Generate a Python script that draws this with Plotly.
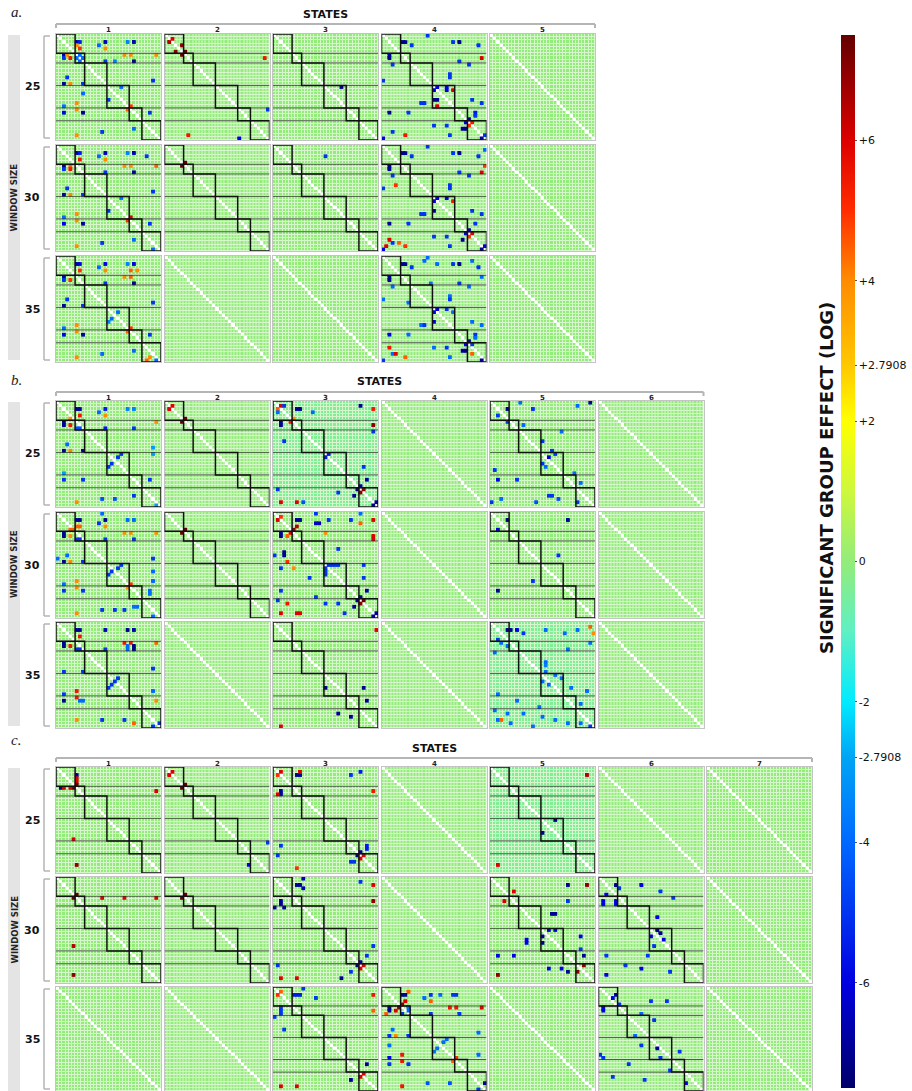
import numpy as np
import plotly.graph_objects as go

W, H = 912, 1091
N = 33
BLOCKS = [6, 3, 7, 7, 4, 6]
WINDOWS = [25, 30, 35]
SECTIONS = ["a", "b", "c"]
N_STATES = [5, 6, 7]
ZMIN, ZMAX = -7.5, 7.5
COLOR_TICKS = [-6, -4, -2.7908, -2, 0, 2, 2.7908, 4, 6]
COLOR_TICK_TEXT = ["-6", "-4", "-2.7908", "-2", "0", "+2", "+2.7908", "+4", "+6"]
COLOR_STOPS = [(-7.5, "rgb(0,0,105)"), (-6, "rgb(0,0,225)"), (-4, "rgb(0,105,255)"),
               (-2.7908, "rgb(0,165,245)"), (-2, "rgb(0,235,255)"), (-1, "rgb(95,240,195)"),
               (0, "rgb(147,236,122)"), (1, "rgb(205,248,60)"), (2, "rgb(255,255,0)"),
               (2.7908, "rgb(255,200,0)"), (4, "rgb(255,140,0)"), (5, "rgb(255,45,0)"),
               (6, "rgb(220,0,0)"), (7.5, "rgb(100,0,0)")]

# significant cells per panel: (row, col, log effect)
A1_25 = [(2,6,-7),(2,7,-5.5),(3,6,4),(4,7,5),(3,13,-4),(2,15,-6.5),(4,15,4),(2,22,-3.5),(2,24,-6.5),
         (6,2,-7),(7,2,-5),(6,3,4),(7,4,5.5),(6,7,-4),(7,6,-4),(8,7,-4),(7,8,-4),(6,21,4),(6,23,4),
         (6,31,4),(8,15,-5),(8,18,-3.5),(8,24,-7),(13,3,-5),(15,2,-7),(15,4,4),(15,8,-5),(14,30,-5),
         (18,8,-4),(20,16,-5),(16,20,-4),(21,6,4),(22,2,-4),(23,6,4),(24,2,-6),(24,8,-7),(23,22,4.5),
         (22,23,5),(24,29,-5),(29,24,-4),(30,14,-5),(31,6,4)]
A2_25 = [(2,1,6.5),(1,2,6),(3,5,7),(5,3,7),(5,6,7.5),(6,5,7.5),(7,31,5.5),(31,7,5.5),(23,32,-5),(32,23,-6)]
A3_25 = [(16,21,-7)]
A4_25 = [(0,14,-5),(2,6,-7),(2,7,-7),(3,9,-5),(2,22,-5),(2,24,-7),(3,30,-5),(7,31,6),(6,2,-7),(7,2,-7),
         (9,3,-5),(8,24,-5),(9,27,-5),(14,0,-5),(12,21,-5),(13,21,-5),(16,17,-6),(17,16,-6),(16,20,-6),
         (17,20,-6),(17,22,6),(20,16,-7),(20,17,-7),(21,12,-5),(21,13,-5),(22,17,6),(20,28,-5),(21,31,-5),
         (24,2,-7),(24,8,-5),(24,29,-5.5),(25,29,-5),(26,27,-7),(27,26,-6),(27,28,5.5),(28,27,5),
         (28,16,-5),(28,20,-5),(29,25,-7),(29,26,-7),(30,3,-5),(31,7,5.5),(31,21,-5),(32,31,-7),
         (31,32,-5),(32,0,-6)]
A1_30 = [(2,6,-7),(2,7,-5.5),(4,7,5.5),(3,13,-4),(2,15,-6.5),(4,15,4),(2,22,-3.5),(2,24,-6.5),(3,28,-5),
         (6,2,-7),(7,2,-5),(6,4,4.5),(7,4,5.5),(6,21,4),(6,23,4),(6,31,4.5),(8,15,-5),(8,24,-7),(13,3,-5),
         (15,2,-7),(15,4,4),(15,8,-5),(14,30,-5),(16,20,-4),(20,16,-5),(21,6,4),(22,2,-4),(23,6,4),
         (24,2,-6),(24,8,-7),(22,23,6),(23,22,5),(24,29,-5),(29,24,-4),(30,14,-5),(31,6,4),(32,30,-4)]
A2_30 = [(5,6,7.5),(6,5,7.5)]
A3_30 = [(3,16,-5)]
A4_30 = [(0,14,-5),(2,6,-7),(2,7,-7),(3,9,-5),(2,22,-5),(2,24,-7),(3,30,-5),(1,32,-4),(8,31,6),(6,32,5),
         (6,2,-7),(7,2,-7),(9,3,-5),(8,24,-5),(9,27,-5),(13,0,-5),(12,21,-5),(13,21,-5),(16,17,-6),
         (17,16,-6),(16,20,-6),(17,22,5.5),(20,16,-7),(21,12,-5),(21,13,-5),(12,4,5),(20,28,-5),(21,31,-5),
         (24,2,-7),(24,8,-5),(24,29,-5),(26,27,-7),(27,26,-6),(27,28,6),(28,27,5),(28,16,-5),(28,20,-5),
         (29,25,-7),(30,3,-5),(29,2,6),(31,1,6),(31,7,5),(30,5,4.5),(31,21,-5),(32,31,-7),(31,32,-6),(32,0,-6)]
A1_35 = [(2,6,-7),(2,7,-6),(4,7,5),(3,13,-4),(2,15,-6),(4,15,4),(2,22,-3.5),(2,24,-6),(4,23,4.5),(4,25,4),
         (6,2,-7),(7,2,-5),(7,4,5),(6,21,4),(6,23,4.5),(8,15,-5),(8,24,-7),(13,3,-5),(15,2,-7),(15,8,-5),
         (14,30,-5),(17,19,-4),(19,17,-4),(20,16,-3.5),(21,6,4),(23,6,4),(22,2,-4),(24,2,-6),(24,8,-7),
         (22,23,5),(23,22,4.5),(24,29,-5),(29,24,-4),(30,14,-4),(31,6,4),(31,29,4),(32,28,4.5),(32,31,-4)]
A4_35 = [(0,14,-4),(2,6,-7),(2,7,-7),(3,9,-5),(1,13,-4),(2,17,-4),(2,22,-5),(2,24,-7),(1,28,-4),(3,30,-5),
         (6,2,-7),(7,2,-7),(9,3,-4),(8,15,-4),(8,24,-5),(9,27,-4),(6,31,-4),(13,0,-4),(12,21,-4),(13,21,-5),
         (14,8,-4),(16,17,-6),(17,16,-6),(16,20,-5),(17,22,-4),(20,16,-6),(21,12,-4),(21,13,-5),(20,28,-4),
         (21,31,-4),(24,2,-6),(24,8,-4),(24,29,-5),(25,29,-4),(26,27,-7),(27,26,-6),(27,28,-5),(28,16,-4),
         (28,20,-5),(29,25,-7),(29,26,-7),(30,3,-4),(28,2,5.5),(30,4,6),(31,7,4.5),(31,21,-4),(30,28,4.5),
         (32,31,-7),(32,0,-5)]
B1_25 = [(2,6,-7),(2,7,-7),(2,15,-5.5),(3,13,-4),(2,22,-3.5),(2,24,-3.5),(4,15,4),(4,7,5.5),(5,4,4),
         (6,2,-7),(7,2,-7),(7,4,5.5),(6,31,4),(8,6,-4.5),(8,7,-4.5),(8,15,-5.5),(8,24,-5),(13,3,-4),
         (15,2,-7),(15,4,4),(15,8,-7),(14,30,-3),(16,30,-3),(17,19,-5),(16,20,-5),(19,17,-5),(20,16,-5),
         (22,2,-3),(24,2,-5),(24,8,-5),(24,29,-5),(29,24,-5),(30,14,-4.5),(30,18,-4.5),(31,6,4),(32,31,-3)]
B2_25 = [(1,2,6),(2,1,6),(5,6,7.5),(6,5,7.5)]
B3_25 = [(1,2,6),(2,1,4.5),(3,1,-4),(1,3,-5),(2,7,-7),(2,8,-7),(3,12,-4),(1,27,-7),(2,31,5.5),(5,6,4),
         (6,5,5.5),(6,2,-7),(7,2,-7),(7,31,7),(9,31,-5),(12,3,-5),(16,17,-5.5),(17,16,-5.5),(20,28,-5),
         (24,29,-7),(27,1,-5),(28,20,-5),(27,26,-7),(26,27,-7),(27,28,7),(28,27,7),(29,25,-7),(31,2,6),
         (31,7,6),(31,9,-4.5),(31,32,-7),(32,31,-7)]
B5_25 = [(2,5,-7),(0,9,-4),(2,13,-5),(1,27,-4),(0,31,-7),(4,2,-5),(6,5,-5),(7,10,-4),(9,22,-4),(12,16,-5),
         (15,19,-5),(16,20,-5),(17,18,-6),(19,16,-5),(20,17,-4),(21,1,-5),(22,26,-4),(24,2,-6),(24,8,-5),
         (25,28,-4),(29,18,-5),(29,19,-5),(30,3,-4),(31,0,-5),(31,14,-4.5),(30,21,-4.5),(31,27,-5)]
B1_30 = [(0,14,-4),(2,6,-7),(2,7,-7),(2,15,-7),(3,13,-5),(2,22,-4),(2,24,-4),(4,15,4),(4,6,4.5),(4,7,4.5),
         (5,4,4.5),(5,5,4.5),(6,2,-7),(7,2,-7),(7,4,4),(6,21,4),(6,23,4),(6,31,4),(8,6,-5),(8,7,-5),
         (8,15,-5),(8,24,-5),(13,3,-4),(14,0,-4),(15,2,-7),(15,4,4),(15,8,-5),(14,30,-5),(16,20,-5),
         (17,19,-5),(18,17,-5),(19,16,-5),(18,30,-4),(21,30,-4),(21,6,4),(23,6,4),(22,2,-4),(24,2,-5),
         (24,8,-5),(23,22,4),(22,23,5),(24,29,-4),(25,29,-4),(29,24,-4),(29,25,-4),(30,14,-5),(30,18,-5),
         (30,21,-5),(31,6,4),(32,30,-4)]
B2_30 = [(5,6,7.5),(6,5,7.5)]
B3_30 = [(2,1,6),(1,2,5),(2,7,-7),(2,8,-7),(0,13,-5),(3,13,-6.5),(3,14,-6.5),(2,17,-5),(2,24,-5),(3,27,4.5),
         (2,31,6),(0,27,-4),(6,5,6),(5,6,7),(4,7,6.5),(7,4,4.5),(6,16,4),(6,2,-7),(7,2,-7),(7,31,6),(8,31,6),
         (11,20,-5),(12,3,-7),(13,3,-7),(13,0,-5),(15,4,5),(17,2,-5),(17,6,4),(16,17,-5),(16,18,-5),(16,19,-5),
         (16,20,-5),(17,16,-5),(18,16,-5),(19,16,-5),(16,28,-5),(20,11,-5),(20,28,-5),(24,2,-5),(24,29,-7),
         (26,13,-5),(27,1,-5),(28,16,-5),(28,20,-5),(28,4,5.5),(29,25,-7),(26,27,-7),(27,28,7.5),(28,27,7),
         (27,26,-7),(31,22,-5),(31,2,6),(31,7,6),(31,8,6),(31,32,-7),(32,31,-7)]
B5_30 = [(2,5,-7),(2,24,-7),(5,2,-6),(13,21,-5),(21,13,-5),(24,2,-7)]
B1_35 = [(2,6,-7),(2,7,-7),(2,15,-6.5),(2,22,-7),(2,24,-6.5),(4,7,5.5),(6,2,-7),(7,2,-7),(7,4,5.5),(8,6,-5),
         (8,7,-5),(6,21,5.5),(6,23,5.5),(7,22,-4),(8,22,-4),(7,24,-7),(8,24,-7),(6,31,4.5),(8,15,-5),
         (15,2,-5),(15,8,-5),(14,30,-5),(17,19,-5),(18,18,-5),(19,17,-5),(20,16,-5),(21,30,-4),(21,6,5.5),
         (23,6,5.5),(22,2,-5),(24,2,-7),(24,7,-4),(24,8,-4),(24,31,4),(30,14,-5),(30,21,-5),(30,6,4),
         (31,24,4.5),(32,30,-5),(31,32,-5)]
B3_35 = [(2,32,6),(20,16,-7),(20,28,-7),(24,29,-7),(28,20,-7),(29,24,-7),(32,2,6)]
B5_35 = [(2,5,-7),(2,6,-7),(2,8,-6),(3,10,-5),(2,17,-4),(3,23,-4),(2,27,-4),(1,31,4.5),(3,32,4),(5,2,-5),
         (6,3,-4),(7,5,-4),(6,31,-4),(8,24,-4),(9,1,-4),(12,17,-4),(13,17,-3.5),(15,17,-4),(16,20,-4),
         (17,22,-4),(18,16,-4),(19,18,-4),(20,25,-4),(21,30,-4),(22,2,-4),(24,8,-4),(25,28,-4),(26,15,-4),
         (27,1,-4),(28,5,-4),(28,10,-4),(29,16,-4),(30,2,-4),(30,3,4.5),(31,6,-4),(30,20,-4),(31,24,-4),
         (32,13,-4),(31,28,-4),(32,31,-5)]
C1_25 = [(2,6,-7),(3,6,6),(4,6,6),(5,6,7.5),(6,5,7.5),(6,1,-7),(6,2,6),(6,4,6),(7,31,6),(22,5,6),(30,6,7)]
C2_25 = [(1,2,6),(2,1,6),(5,6,7.5),(6,5,7.5),(23,32,-5),(30,26,-6)]
C3_25 = [(1,2,6),(2,1,5),(2,7,-7),(2,8,-7),(1,8,6),(2,24,-5),(1,27,-5.5),(7,31,5.5),(7,2,-7),(8,2,-7),
         (8,1,6),(24,2,-5),(27,1,-5),(24,29,-5.5),(25,29,-5.5),(26,27,-7),(27,26,-7),(27,28,6),(28,27,6),
         (29,24,-5),(29,25,-5),(31,7,5)]
C5_25 = [(2,30,6.5),(16,20,-7),(20,16,-7),(30,2,6)]
C1_30 = [(5,6,7.5),(6,5,7.5),(6,14,6),(6,21,6),(6,31,6),(21,5,6.5),(30,5,7)]
C2_30 = [(5,6,7.5),(6,5,7.5)]
C3_30 = [(0,9,-6.5),(2,7,-7),(2,8,-7),(3,9,-6.5),(1,27,-5),(2,31,6),(7,31,7),(7,2,-7),(8,2,-7),(9,0,-7),
         (9,3,-7),(21,31,-5),(24,29,-5),(27,1,-5),(26,27,-7),(27,26,-7),(27,28,6),(28,27,6),(29,24,-5),
         (31,2,6),(31,7,6),(31,21,-7)]
C5_30 = [(2,24,-7),(2,30,7),(4,7,6),(7,4,6),(7,24,-5),(11,19,-7),(11,20,-7),(16,18,-6),(16,20,-6),(18,16,-7),
         (20,16,-7),(19,11,-6),(20,11,-6),(18,28,-6),(22,28,-5),(24,29,-7),(24,2,-6),(24,7,-6),(28,18,-6),
         (28,22,-6),(29,24,-7),(27,29,7),(29,27,7),(30,2,7)]
C6_30 = [(2,5,-7),(3,6,-5),(5,2,-6),(7,1,-6),(8,1,-6),(7,5,-6),(8,5,-6),(2,13,-6),(4,19,-5),(6,23,-5),
         (12,18,-6),(16,18,-7),(17,19,-7),(18,16,-6),(19,20,-6),(21,17,-5),(24,2,-5),(24,15,-5),(27,8,-5),
         (28,13,-6),(29,22,-5),(30,2,-6)]
C3_35 = [(1,2,4.5),(2,1,5),(0,9,-5),(2,6,-5.5),(2,7,-5.5),(2,8,-5.5),(3,13,-5),(2,31,5.5),(7,31,4.5),
         (6,2,-5),(7,2,-5),(8,2,-5),(9,0,-5),(13,3,-5),(24,29,-7),(27,28,6),(28,27,6),(29,24,-7),(31,2,6),
         (31,7,6)]
C4_35 = [(1,8,4.5),(2,6,-7),(2,7,-7),(3,13,-4),(2,15,-5),(2,18,-4),(2,22,-5),(2,23,-5),(4,15,4.5),(4,7,6),
         (5,6,7),(6,5,7),(7,4,6),(6,2,-7),(7,2,-7),(6,8,-4),(7,8,-4),(8,1,4.5),(6,21,5.5),(6,23,5.5),
         (6,31,6),(8,6,-5),(8,15,-5),(8,24,-5),(13,3,-4),(15,2,-5),(15,4,4),(15,8,-5),(14,30,-4),(16,20,-4),
         (17,19,-4),(19,17,-4),(20,16,-4),(18,2,-4),(21,30,-4),(21,6,5.5),(23,6,5.5),(22,2,-6),(24,2,-5),
         (24,8,-5),(23,22,4.5),(22,23,5),(30,14,-4.5),(30,21,-4.5),(30,32,-7),(31,6,5.5),(32,30,-5)]
C6_35 = [(2,5,-7),(3,4,-6),(6,1,-6),(7,1,-6),(5,6,-5),(4,16,-5),(4,21,-5),(8,13,-4),(10,17,-5),(15,11,-4),
         (18,13,-5),(19,18,-7),(20,25,-5),(21,0,-5),(22,1,-5),(22,19,-5),(24,9,-5),(26,22,-5),(28,4,-5),
         (29,14,-5),(30,27,-6)]

# panels drawn with module outlines: (section, state, window) -> cells
PANELS = {
    ("a", 1, 25): A1_25, ("a", 2, 25): A2_25, ("a", 3, 25): A3_25, ("a", 4, 25): A4_25,
    ("a", 1, 30): A1_30, ("a", 2, 30): A2_30, ("a", 3, 30): A3_30, ("a", 4, 30): A4_30,
    ("a", 1, 35): A1_35, ("a", 4, 35): A4_35,
    ("b", 1, 25): B1_25, ("b", 2, 25): B2_25, ("b", 3, 25): B3_25, ("b", 5, 25): B5_25,
    ("b", 1, 30): B1_30, ("b", 2, 30): B2_30, ("b", 3, 30): B3_30, ("b", 5, 30): B5_30,
    ("b", 1, 35): B1_35, ("b", 3, 35): B3_35, ("b", 5, 35): B5_35,
    ("c", 1, 25): C1_25, ("c", 2, 25): C2_25, ("c", 3, 25): C3_25, ("c", 5, 25): C5_25,
    ("c", 1, 30): C1_30, ("c", 2, 30): C2_30, ("c", 3, 30): C3_30, ("c", 5, 30): C5_30, ("c", 6, 30): C6_30,
    ("c", 3, 35): C3_35, ("c", 4, 35): C4_35, ("c", 6, 35): C6_35,
}
TINTED = {("b", 3, 25): -0.35, ("b", 5, 35): -0.35, ("c", 5, 25): -0.35}

# ---------------- geometry (pixels) ----------------
SEC_ROW_TOPS = {"a": [34, 145, 256], "b": [401, 512, 622], "c": [767, 877, 987]}
SEC_HEAD_Y = {"a": 14, "b": 382, "c": 748}
SEC_LETTER_Y = {"a": 12, "b": 380, "c": 740}
LEFT0, PITCH, PW, PH = 56, 108.5, 105, 106


def px(x):
    return x / W


def py(y):
    return 1 - y / H


def label(x, y, text, size, family="DejaVu Sans", color="#111", angle=0):
    return dict(x=px(x), y=py(y), xref="paper", yref="paper", text=text, showarrow=False,
                xanchor="center", yanchor="middle", textangle=angle,
                font=dict(size=size, family=family, color=color))


cscale = [[(v - ZMIN) / (ZMAX - ZMIN), c] for v, c in COLOR_STOPS]
fig = go.Figure()
layout = dict(width=W, height=H, margin=dict(l=0, r=0, t=0, b=0, autoexpand=False),
              paper_bgcolor="white", plot_bgcolor="rgb(214,246,204)", showlegend=False,
              coloraxis=dict(colorscale=cscale, cmin=ZMIN, cmax=ZMAX,
                             colorbar=dict(thickness=14, thicknessmode="pixels", len=1053, lenmode="pixels",
                                           x=px(841), xanchor="left", y=py(35), yanchor="top",
                                           xpad=0, ypad=0, outlinewidth=0,
                                           tickvals=COLOR_TICKS, ticktext=COLOR_TICK_TEXT,
                                           ticks="outside", ticklen=2, tickcolor="#555",
                                           tickfont=dict(size=11, family="DejaVu Sans", color="#111"))))
shapes, annotations = [], []
cum = np.cumsum([0] + BLOCKS)
diag = np.full((N, N), np.nan)
np.fill_diagonal(diag, 1.0)
k = 0
for si, sec in enumerate(SECTIONS):
    ns = N_STATES[si]
    for wi, win in enumerate(WINDOWS):
        top = SEC_ROW_TOPS[sec][wi]
        bot = min(top + PH, H)
        for s in range(1, ns + 1):
            k += 1
            x0 = LEFT0 + (s - 1) * PITCH
            x1 = x0 + PW
            xa, ya = ("x", "y") if k == 1 else (f"x{k}", f"y{k}")
            key = (sec, s, win)
            z = np.full((N, N), TINTED.get(key, 0.0))
            cells = PANELS.get(key, [])
            for r, c, v in cells:
                z[r, c] = v
            fig.add_trace(go.Heatmap(z=z, x=list(range(N)), y=list(range(N)), coloraxis="coloraxis",
                                     xgap=1, ygap=1, xaxis=xa, yaxis=ya, hoverinfo="skip"))
            fig.add_trace(go.Heatmap(z=diag, x=list(range(N)), y=list(range(N)),
                                     colorscale=[[0, "white"], [1, "white"]], showscale=False,
                                     xaxis=xa, yaxis=ya, hoverinfo="skip"))
            if cells:
                fig.add_trace(go.Scatter(x=[c for r, c, v in cells], y=[r for r, c, v in cells], mode="markers",
                                         marker=dict(symbol="square", size=3.8, color=[v for r, c, v in cells],
                                                     coloraxis="coloraxis", line=dict(width=0)),
                                         xaxis=xa, yaxis=ya, hoverinfo="skip", cliponaxis=True))
            axx = dict(domain=[px(x0), px(x1)], range=[-0.5, N - 0.5], showgrid=False, zeroline=False,
                       showticklabels=False, ticks="", showline=True, mirror=True, linecolor="#c4c4c4",
                       linewidth=1, anchor=ya)
            axy = dict(domain=[py(bot), py(top)], range=[N - 0.5, -0.5], showgrid=False, zeroline=False,
                       showticklabels=False, ticks="", showline=True, mirror=True, linecolor="#c4c4c4",
                       linewidth=1, anchor=xa)
            layout["xaxis" if k == 1 else f"xaxis{k}"] = axx
            layout["yaxis" if k == 1 else f"yaxis{k}"] = axy
            if key in PANELS:
                for b in cum[1:-1]:
                    shapes.append(dict(type="line", xref=xa, yref=ya, x0=-0.5, x1=N - 0.5, y0=b - 0.5,
                                       y1=b - 0.5, line=dict(color="rgba(40,40,40,0.75)", width=1)))
                for i in range(len(BLOCKS)):
                    shapes.append(dict(type="rect", xref=xa, yref=ya, x0=cum[i] - 0.5, x1=cum[i + 1] - 0.5,
                                       y0=cum[i] - 0.5, y1=cum[i + 1] - 0.5,
                                       line=dict(color="#111", width=1.5)))
        # row label + bracket
        annotations.append(label(32, (top + bot) / 2, "<b>%d</b>" % win, 11))
        for (ax0, ay0, ax1, ay1) in [(44, top + 2, 44, bot - 2), (44, top + 2, 50, top + 2), (44, bot - 2, 50, bot - 2)]:
            shapes.append(dict(type="line", xref="paper", yref="paper", x0=px(ax0), y0=py(ay0), x1=px(ax1), y1=py(ay1),
                               line=dict(color="#b5b5b5", width=1.5)))
    # section header
    rows = SEC_ROW_TOPS[sec]
    right = LEFT0 + (ns - 1) * PITCH + PW
    hy = SEC_HEAD_Y[sec]
    annotations.append(label((LEFT0 + right) / 2, hy, "<b>STATES</b>", 11))
    for (ax0, ay0, ax1, ay1) in [(LEFT0, hy + 10, right, hy + 10), (LEFT0, hy + 10, LEFT0, hy + 14), (right, hy + 10, right, hy + 14)]:
        shapes.append(dict(type="line", xref="paper", yref="paper", x0=px(ax0), y0=py(ay0), x1=px(ax1), y1=py(ay1),
                           line=dict(color="#b5b5b5", width=2)))
    for s in range(1, ns + 1):
        cx = LEFT0 + (s - 1) * PITCH + PW / 2
        annotations.append(label(cx, hy + 15.5, "<b>%d</b>" % s, 7, color="#222"))
    annotations.append(label(16, SEC_LETTER_Y[sec], "<i>%s.</i>" % sec, 15, family="Liberation Serif", color="#222"))
    ytop, ybot = rows[0] + 1, min(rows[-1] + PH - 2, H)
    shapes.append(dict(type="rect", xref="paper", yref="paper", x0=px(8), x1=px(20), y0=py(ybot), y1=py(ytop),
                       fillcolor="#e4e4e4", line=dict(width=0), layer="below"))
    annotations.append(label(14, (ytop + ybot) / 2, "<b>WINDOW SIZE</b>", 8.5, color="#222", angle=-90))

annotations.append(label(826, 478, "<b>SIGNIFICANT GROUP EFFECT (LOG)</b>", 18, angle=-90))
layout["shapes"] = shapes
layout["annotations"] = annotations
fig.update_layout(**layout)
fig.write_html("out.html", config={"displayModeBar": False},
               post_script="document.body.style.margin='0px';")
